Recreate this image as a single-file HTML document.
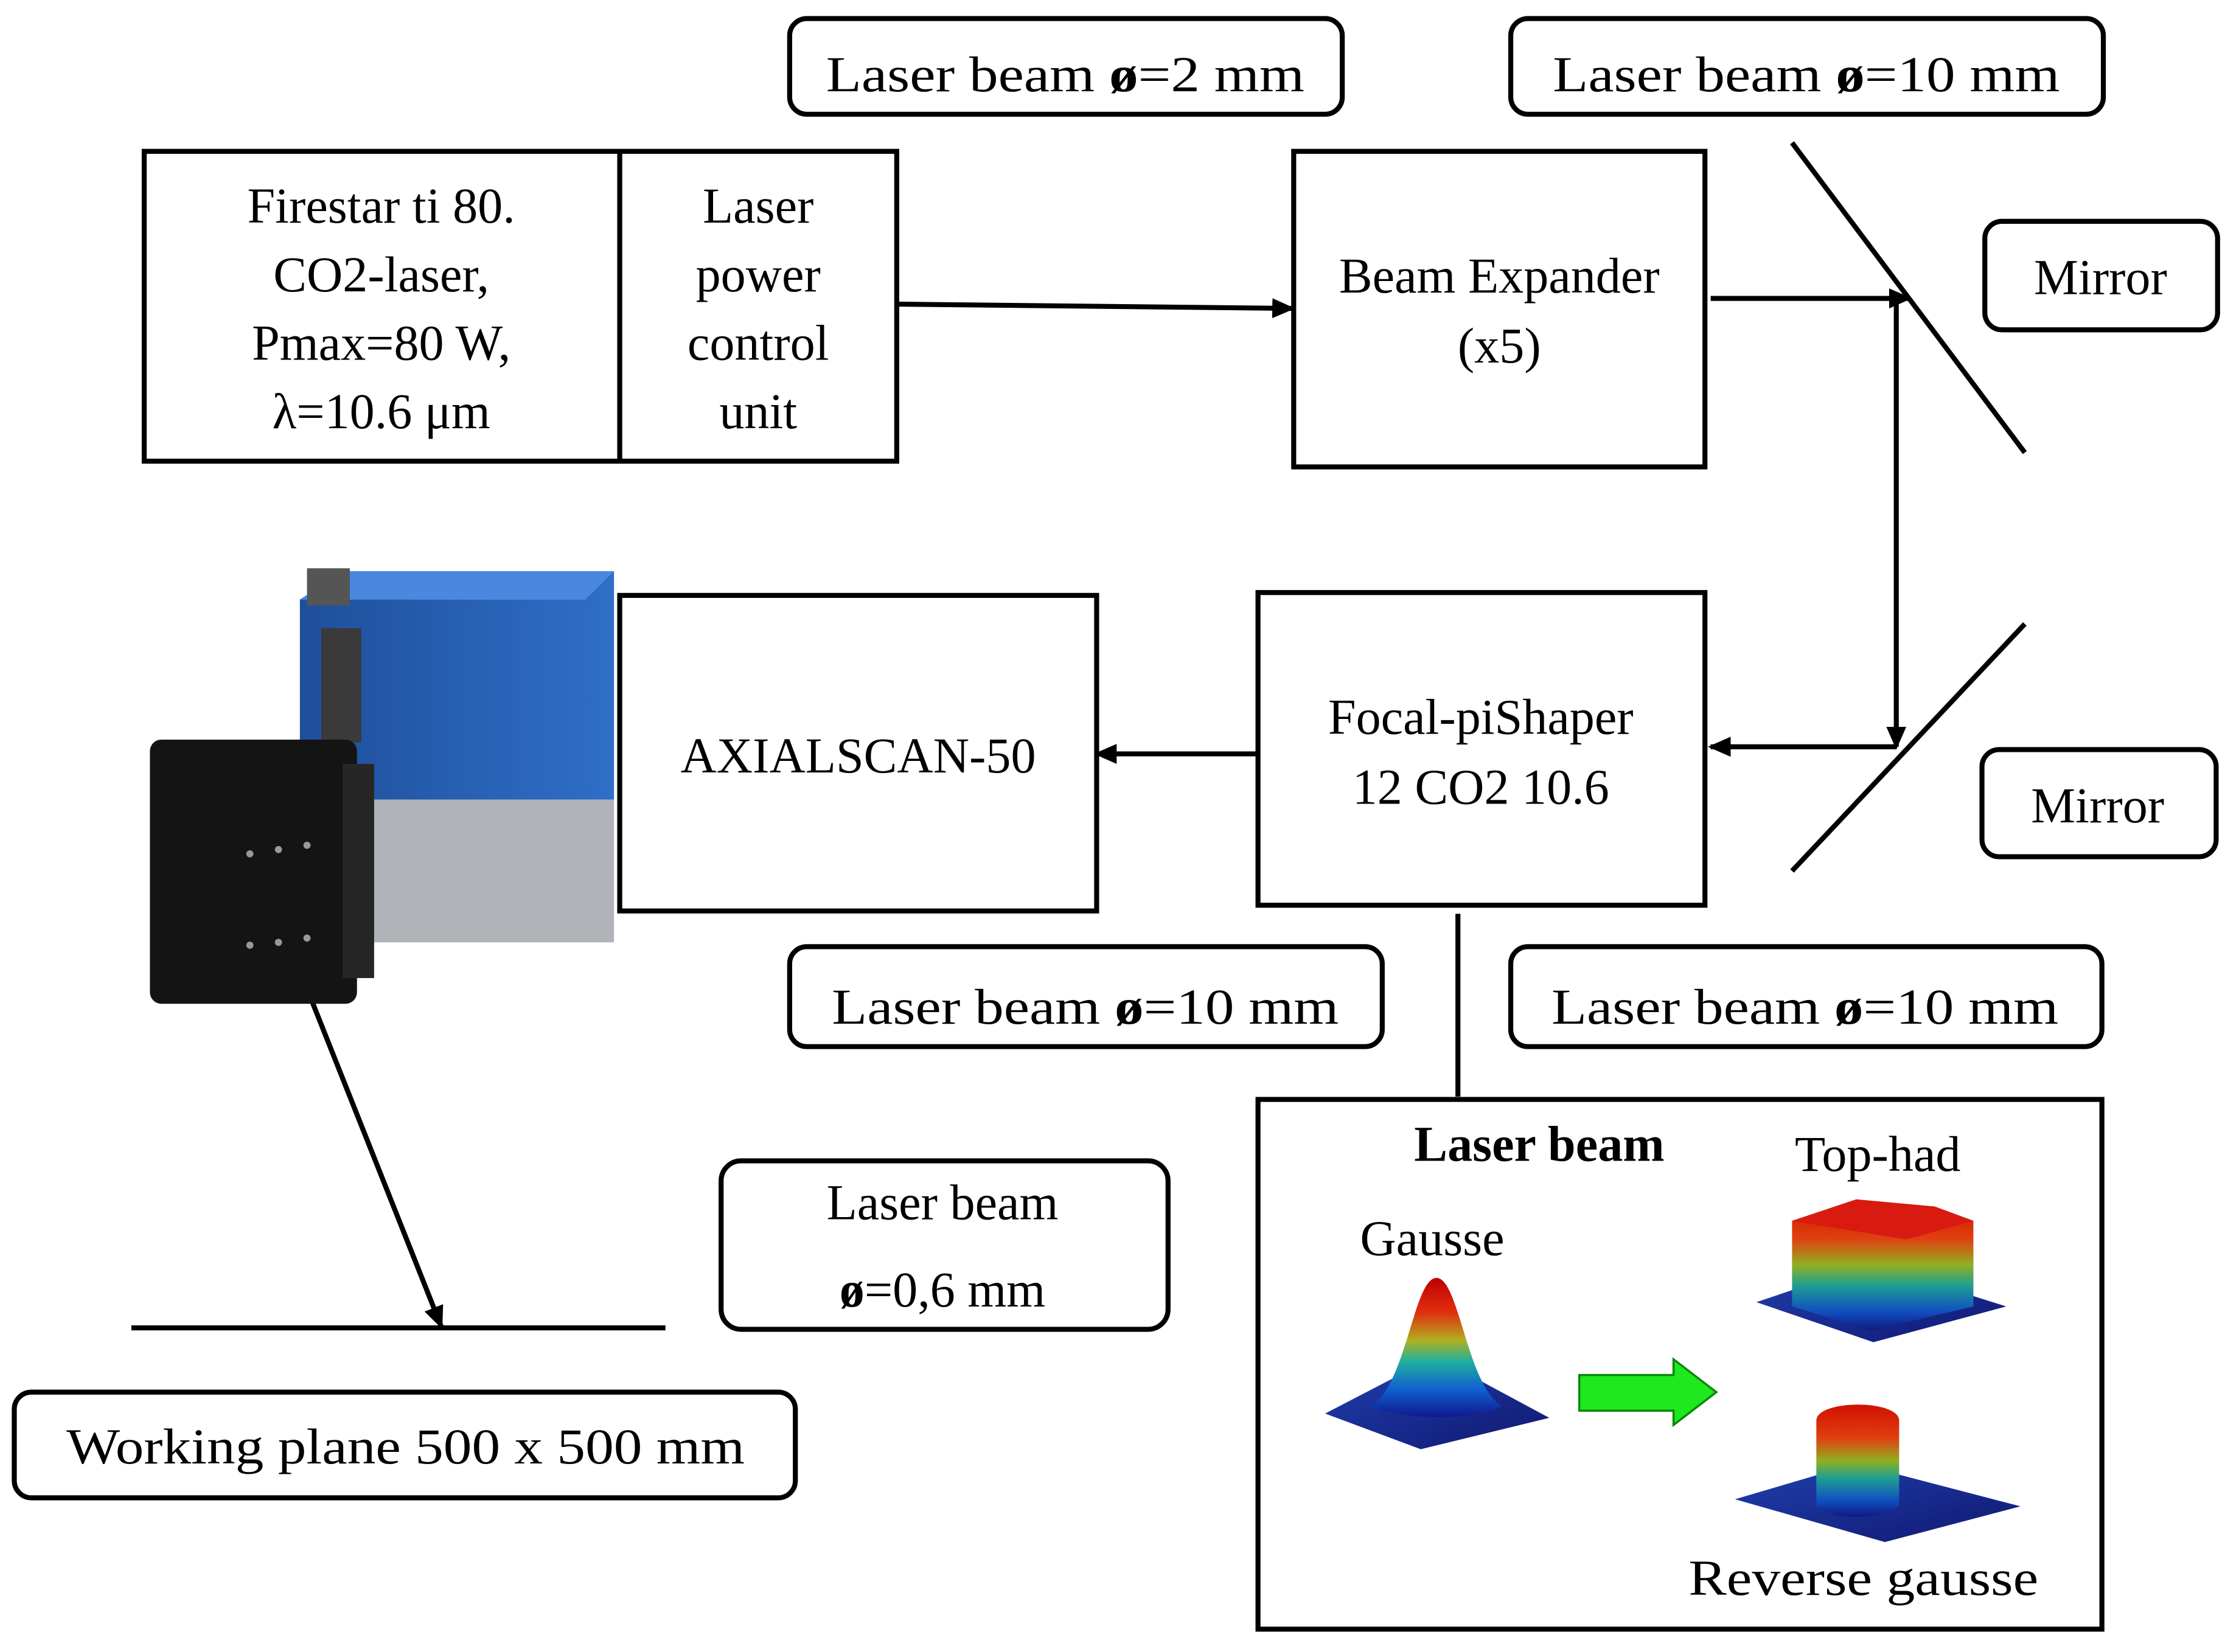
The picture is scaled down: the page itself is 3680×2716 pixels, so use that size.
<!DOCTYPE html>
<html><head><meta charset="utf-8"><style>
html,body{margin:0;padding:0;background:#fff}
svg{display:block}
</style></head><body>
<svg width="3680" height="2716" viewBox="0 0 1568 1157" preserveAspectRatio="none" xmlns="http://www.w3.org/2000/svg" font-family="'Liberation Serif','DejaVu Serif','Times New Roman',serif">
<defs>
<marker id="ah" markerWidth="16" markerHeight="14" refX="14" refY="7" orient="auto" markerUnits="userSpaceOnUse"><path d="M0,0 L16,7 L0,14 z" fill="#000"/></marker>
<linearGradient id="jet" x1="0" y1="0" x2="0" y2="1">
<stop offset="0" stop-color="#c00000"/><stop offset="0.25" stop-color="#e03010"/><stop offset="0.45" stop-color="#b0b020"/><stop offset="0.6" stop-color="#20b0a0"/><stop offset="0.8" stop-color="#1060d0"/><stop offset="1" stop-color="#101890"/></linearGradient>
<linearGradient id="jet2" x1="0" y1="0" x2="0" y2="1">
<stop offset="0" stop-color="#d01000"/><stop offset="0.3" stop-color="#e04010"/><stop offset="0.5" stop-color="#90b020"/><stop offset="0.65" stop-color="#20a090"/><stop offset="0.85" stop-color="#1050c0"/><stop offset="1" stop-color="#101880"/></linearGradient>
<linearGradient id="blue" x1="0" y1="0" x2="1" y2="1"><stop offset="0" stop-color="#2040b0"/><stop offset="1" stop-color="#101870"/></linearGradient>
<linearGradient id="cam" x1="0" y1="0" x2="1" y2="0"><stop offset="0" stop-color="#1f4f9a"/><stop offset="1" stop-color="#2f6fc8"/></linearGradient>
</defs>
<g fill="none" stroke="#000" stroke-width="3.5">
<rect x="553" y="13" width="387" height="67" rx="12"/>
<rect x="1058" y="13" width="415" height="67" rx="12"/>
<rect x="101" y="106" width="527" height="217"/>
<line x1="434" y1="106" x2="434" y2="323"/>
<rect x="906" y="106" width="288" height="221"/>
<rect x="1390" y="155" width="163" height="76" rx="12"/>
<rect x="1388" y="525" width="164" height="75" rx="12"/>
<rect x="881" y="415" width="313" height="219"/>
<rect x="434" y="417" width="334" height="221"/>
<rect x="553" y="663" width="415" height="70" rx="12"/>
<rect x="1058" y="663" width="414" height="70" rx="12"/>
<rect x="881" y="770" width="591" height="371"/>
<rect x="505" y="813" width="313" height="118" rx="14"/>
<rect x="10" y="975" width="547" height="74" rx="12"/>
<line x1="1255" y1="100" x2="1418" y2="317"/>
<line x1="1418" y1="437" x2="1255" y2="610"/>
<line x1="92" y1="930" x2="466" y2="930"/>
<line x1="1021" y1="640" x2="1021" y2="768"/>
<line x1="628" y1="213" x2="905" y2="216" marker-end="url(#ah)"/>
<line x1="1198" y1="209" x2="1337" y2="209" marker-end="url(#ah)"/>
<line x1="1328" y1="209" x2="1328" y2="523" marker-end="url(#ah)"/>
<line x1="1328" y1="523" x2="1198" y2="523" marker-end="url(#ah)"/>
<line x1="881" y1="528" x2="768" y2="528" marker-end="url(#ah)"/>
<line x1="218" y1="700" x2="309" y2="929" marker-end="url(#ah)"/>
</g>
<!-- camera -->
<path d="M210,420 L240,400 L430,400 L430,560 L210,560 z" fill="url(#cam)"/>
<path d="M210,420 L240,400 L430,400 L410,420 z" fill="#4a88e0"/>
<rect x="210" y="560" width="220" height="100" fill="#b0b4b8"/>
<rect x="215" y="398" width="30" height="26" fill="#555"/>
<rect x="225" y="440" width="28" height="80" fill="#3a3a3a"/>
<rect x="105" y="518" width="145" height="185" rx="8" fill="#141414"/>
<rect x="240" y="535" width="22" height="150" fill="#262626"/>
<g fill="#999"><circle cx="175" cy="598" r="2.5"/><circle cx="195" cy="595" r="2.5"/><circle cx="215" cy="592" r="2.5"/><circle cx="175" cy="662" r="2.5"/><circle cx="195" cy="660" r="2.5"/><circle cx="215" cy="657" r="2.5"/></g>
<g font-size="35" text-anchor="middle" fill="#000">
<text x="746" y="64" textLength="335" lengthAdjust="spacingAndGlyphs">Laser beam  <tspan font-weight="bold">ø</tspan>=2 mm</text>
<text x="1265" y="64" textLength="355" lengthAdjust="spacingAndGlyphs">Laser beam  <tspan font-weight="bold">ø</tspan>=10 mm</text>
<text x="267" y="156">Firestar ti 80.</text>
<text x="267" y="204">CO2-laser,</text>
<text x="267" y="252">Pmax=80 W,</text>
<text x="267" y="300">λ=10.6 μm</text>
<text x="531" y="156">Laser</text>
<text x="531" y="204">power</text>
<text x="531" y="252">control</text>
<text x="531" y="300">unit</text>
<text x="1050" y="205">Beam Expander</text>
<text x="1050" y="254">(x5)</text>
<text x="1471" y="206">Mirror</text>
<text x="1469" y="576">Mirror</text>
<text x="1037" y="514">Focal-piShaper</text>
<text x="1037" y="563">12 CO2 10.6</text>
<text x="601" y="541">AXIALSCAN-50</text>
<text x="760" y="717" textLength="355" lengthAdjust="spacingAndGlyphs">Laser beam  <tspan font-weight="bold">ø</tspan>=10 mm</text>
<text x="1264" y="717" textLength="355" lengthAdjust="spacingAndGlyphs">Laser beam  <tspan font-weight="bold">ø</tspan>=10 mm</text>
<text x="660" y="854">Laser beam</text>
<text x="660" y="915"><tspan font-weight="bold">ø</tspan>=0,6 mm</text>
<text x="284" y="1025" textLength="475" lengthAdjust="spacingAndGlyphs">Working plane 500 x 500 mm</text>
<text x="1078" y="813" font-weight="bold">Laser beam</text>
<text x="1315" y="820">Top-had</text>
<text x="1003" y="879">Gausse</text>
<text x="1305" y="1117" textLength="245" lengthAdjust="spacingAndGlyphs">Reverse gausse</text>
</g>
<!-- plots -->
<path d="M928,990 L1005,950 L1085,993 L995,1015 z" fill="url(#blue)"/>
<path d="M960,985 C985,970 990,895 1006,895 C1022,895 1027,970 1052,985 C1030,995 985,995 960,985 z" fill="url(#jet)"/>
<path d="M1230,912 L1310,885 L1405,915 L1312,940 z" fill="url(#blue)"/>
<path d="M1255,915 L1255,855 L1300,840 L1355,845 L1382,855 L1382,915 L1310,932 z" fill="url(#jet2)"/>
<path d="M1255,855 L1300,840 L1355,845 L1382,855 L1335,868 z" fill="#d81a10"/>
<path d="M1215,1050 L1300,1025 L1415,1055 L1320,1080 z" fill="url(#blue)"/>
<path d="M1272,1055 L1272,995 C1272,980 1330,980 1330,995 L1330,1055 C1315,1065 1285,1065 1272,1055 z" fill="url(#jet2)"/>
<path d="M1106,963 L1172,963 L1172,952 L1202,975 L1172,998 L1172,988 L1106,988 z" fill="#1ee81e" stroke="#0a8a0a" stroke-width="1.5"/>
</svg>
</body></html>
